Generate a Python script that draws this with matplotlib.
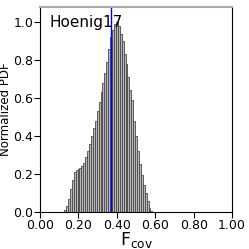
import numpy as np
import matplotlib
matplotlib.use('Agg')
import matplotlib.pyplot as plt

# DATA
bin_centers = [0.13, 0.14, 0.15, 0.16, 0.17, 0.18, 0.19, 0.20, 0.21, 0.22,
               0.23, 0.24, 0.25, 0.26, 0.27, 0.28, 0.29, 0.30, 0.31, 0.32,
               0.33, 0.34, 0.35, 0.36, 0.37, 0.38, 0.39, 0.40, 0.41, 0.42,
               0.43, 0.44, 0.45, 0.46, 0.47, 0.48, 0.49, 0.50, 0.51, 0.52,
               0.53, 0.54, 0.55, 0.56, 0.57, 0.58]
pdf_values = [0.01, 0.03, 0.07, 0.12, 0.17, 0.21, 0.22, 0.225, 0.23, 0.24,
              0.26, 0.29, 0.32, 0.36, 0.40, 0.44, 0.48, 0.53, 0.58, 0.63,
              0.68, 0.73, 0.79, 0.86, 0.92, 0.96, 0.99, 1.00, 0.98, 0.94,
              0.90, 0.83, 0.78, 0.71, 0.64, 0.59, 0.48, 0.40, 0.32, 0.25,
              0.195, 0.14, 0.10, 0.055, 0.02, 0.007]
f_cov_obs = 0.37
label = 'Hoenig17'
xticks = [0.0, 0.2, 0.4, 0.6, 0.8, 1.0]
yticks = [0.0, 0.2, 0.4, 0.6, 0.8, 1.0]

# PLOT
fig = plt.figure(figsize=(2.49, 2.49), dpi=100)
ax = fig.add_axes([0.161, 0.149, 0.771, 0.823])

ax.bar(bin_centers, pdf_values, width=0.01, color='#b8b8b8',
       edgecolor='#484848', linewidth=0.6)
ax.axvline(f_cov_obs, color='blue', linewidth=1)

ax.set_xlim(0, 1)
ax.set_ylim(0, 1.08)
ax.set_xticks(xticks)
ax.set_yticks(yticks)
ax.set_xticklabels(['%.2f' % t for t in xticks], fontsize=9)
ax.set_yticklabels(['%.1f' % t for t in yticks], fontsize=9)
ax.tick_params(direction='out', length=4, pad=1)

ax.spines['top'].set_color('#aaaaaa')
ax.spines['top'].set_linewidth(1.5)

ax.set_xlabel(r'$\mathrm{F_{cov}}$', fontsize=12.5, labelpad=-1)
ax.set_ylabel('Normalized PDF', fontsize=8.5, labelpad=0.5)
ax.text(0.05, 0.96, label, transform=ax.transAxes, fontsize=11,
        ha='left', va='top')

fig.savefig('out.png', dpi=100)
